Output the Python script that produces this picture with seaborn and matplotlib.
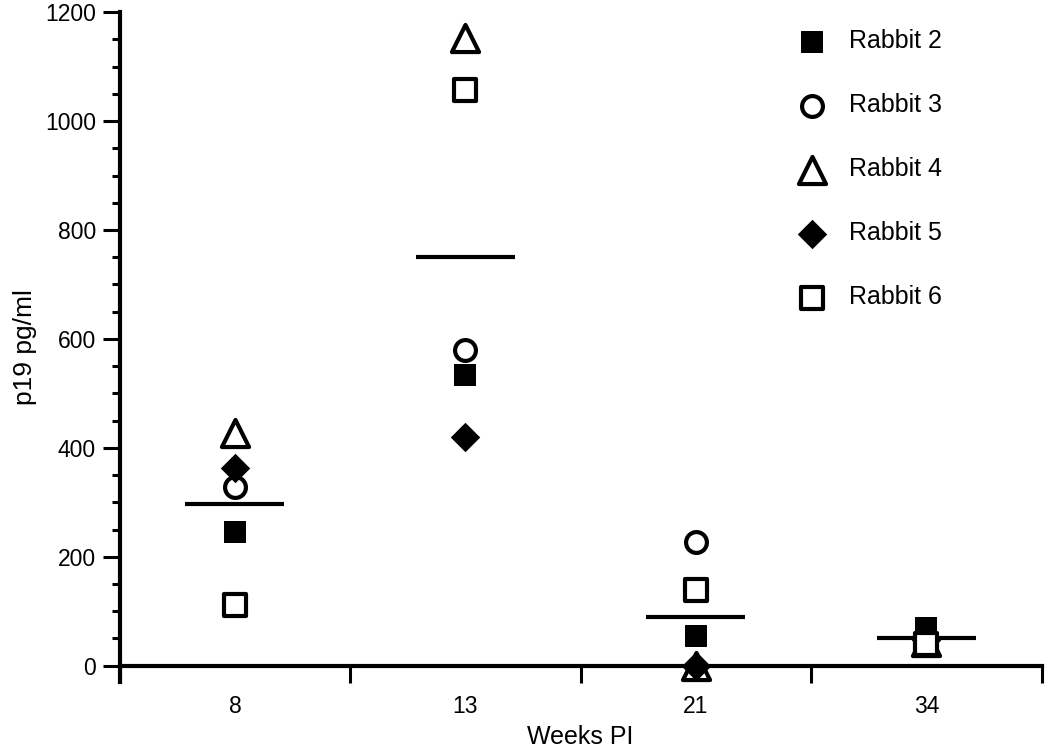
"""
p19 levels per rabbit over weeks post infection
"""
import numpy as np
import pandas as pd
import matplotlib
matplotlib.use('Agg')
import matplotlib.pyplot as plt
from matplotlib.ticker import MultipleLocator, FixedLocator, NullFormatter
import seaborn as sns

weeks = ['8', '13', '21', '34']
rabbit2 = [246, 534, 55, 70]
rabbit3 = [328, 580, 227, 50]
rabbit4 = [427, 1152, 0, 44]
rabbit5 = [363, 420, 0, 48]
rabbit6 = [112, 1057, 139, 40]
means = [297, 750, 90, 50]

rabbits = ['Rabbit 2', 'Rabbit 3', 'Rabbit 4', 'Rabbit 5', 'Rabbit 6']
values = [rabbit2, rabbit3, rabbit4, rabbit5, rabbit6]

sns.set_theme(style='ticks', rc={
    'text.color': 'black', 'axes.labelcolor': 'black', 'axes.edgecolor': 'black',
    'xtick.color': 'black', 'ytick.color': 'black',
})
plt.rcParams['font.family'] = ['Liberation Sans', 'DejaVu Sans']

# marker, size (pt), filled
styles = {
    'Rabbit 2': ('s', 16, True),
    'Rabbit 3': ('o', 15, False),
    'Rabbit 4': ('^', 19.5, False),
    'Rabbit 5': ('D', 15, True),
    'Rabbit 6': ('s', 15.5, False),
}

rows = []
for name, vals in zip(rabbits, values):
    for i, v in enumerate(vals):
        rows.append({'pos': i, 'week': weeks[i], 'rabbit': name, 'p19': v})
df = pd.DataFrame(rows)

fig = plt.figure(figsize=(10.5, 7.5), dpi=100)
ax = fig.add_axes([0.114, 0.0907, 0.878, 0.893])

for name in rabbits:
    m, size, filled = styles[name]
    sub = df[df['rabbit'] == name]
    sns.scatterplot(data=sub, x='pos', y='p19', ax=ax, marker=m, s=size ** 2,
                    facecolor='black' if filled else 'white',
                    edgecolor='black', linewidth=0 if filled else 3,
                    label=name, zorder=3)

# mean lines
pos = np.arange(len(weeks))
ax.hlines(means, pos - 0.215, pos + 0.215, color='black', linewidth=3, zorder=2)

ax.set_xlim(-0.5, len(weeks) - 0.5)
ax.set_ylim(-30, 1200)

sns.despine(ax=ax)
ax.spines['bottom'].set_position(('data', 0))
ax.spines['left'].set_linewidth(3)
ax.spines['bottom'].set_linewidth(3)

ax.yaxis.set_major_locator(MultipleLocator(200))
ax.yaxis.set_minor_locator(MultipleLocator(50))
ax.tick_params(axis='y', which='major', length=12, width=2.2, labelsize=16.5, pad=5)
ax.tick_params(axis='y', which='minor', length=6, width=2.2)

ax.xaxis.set_major_locator(FixedLocator(np.arange(len(weeks) + 1) - 0.5))
ax.xaxis.set_major_formatter(NullFormatter())
ax.set_xticks(pos, minor=True)
ax.set_xticklabels(weeks, minor=True)
ax.tick_params(axis='x', which='major', length=12, width=2.2, direction='out')
ax.tick_params(axis='x', which='minor', length=0, labelsize=16.5, pad=21)

ax.set_xlabel('Weeks PI', fontsize=18, labelpad=5)
ax.set_ylabel('p19 pg/ml', fontsize=19, labelpad=6)

ax.legend(loc='upper left', bbox_to_anchor=(0.71, 0.993), frameon=False,
          fontsize=18, labelspacing=1.6, handletextpad=0.5, borderpad=0)

plt.savefig('out.png', dpi=100)
plt.close()
